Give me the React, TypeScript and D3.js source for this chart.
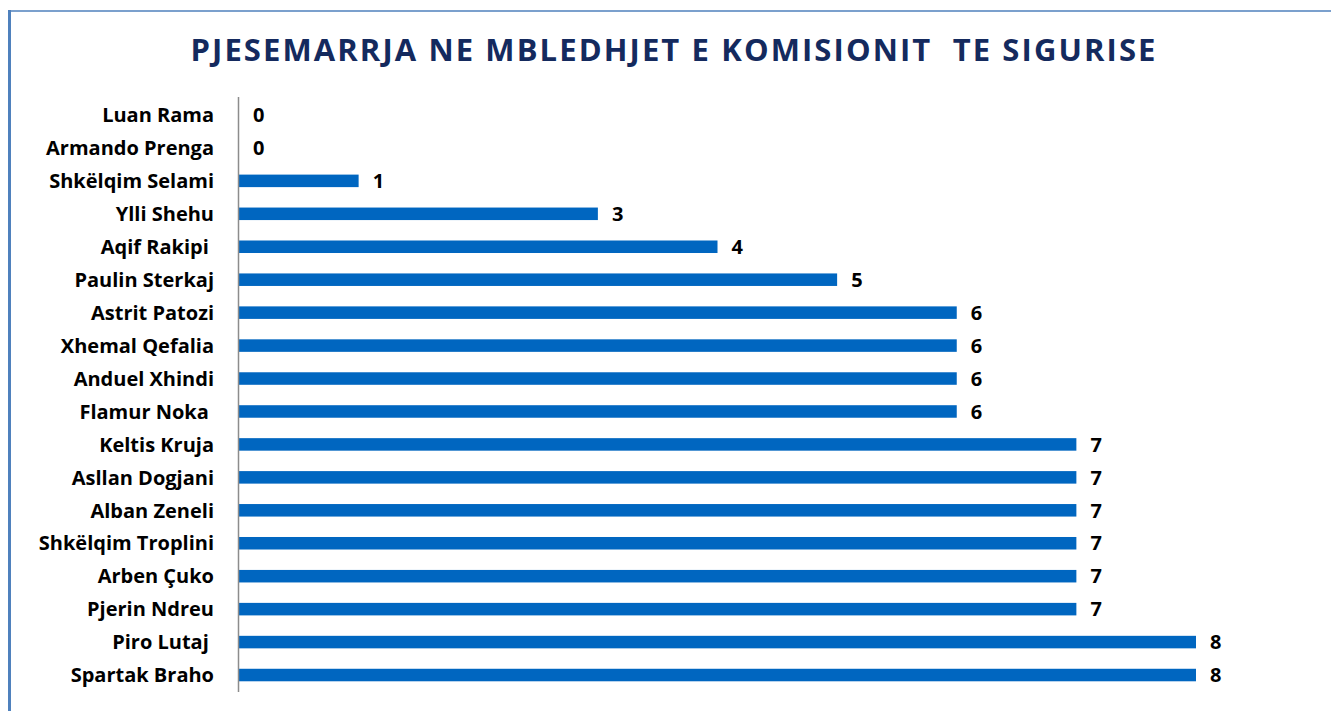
import React, { useEffect, useRef } from "react";
import * as d3 from "d3";

const names = [
  "Luan Rama",
  "Armando Prenga",
  "Shkëlqim Selami",
  "Ylli Shehu",
  "Aqif Rakipi ",
  "Paulin Sterkaj",
  "Astrit Patozi",
  "Xhemal Qefalia",
  "Anduel Xhindi",
  "Flamur Noka ",
  "Keltis Kruja",
  "Asllan Dogjani",
  "Alban Zeneli",
  "Shkëlqim Troplini",
  "Arben Çuko",
  "Pjerin Ndreu",
  "Piro Lutaj ",
  "Spartak Braho",
];
const values = [0, 0, 1, 3, 4, 5, 6, 6, 6, 6, 7, 7, 7, 7, 7, 7, 8, 8];
const title = "PJESEMARRJA NE MBLEDHJET E KOMISIONIT  TE SIGURISE";

const W = 1331;
const H = 711;

export default function App() {
  const ref = useRef<SVGSVGElement>(null);
  useEffect(() => {
    const svg = d3.select(ref.current);
    svg.selectAll("*").remove();
    const font = "'Open Sans', Lato, sans-serif";

    // frame
    svg.append("line").attr("x1", 9.5).attr("x2", 9.5).attr("y1", 10).attr("y2", H)
      .attr("stroke", "#4f81bd").attr("stroke-width", 3);
    svg.append("line").attr("x1", 8).attr("x2", W).attr("y1", 11).attr("y2", 11)
      .attr("stroke", "#4f81bd").attr("stroke-width", 1.5);

    svg.append("text").attr("x", 674).attr("y", 61).attr("text-anchor", "middle")
      .attr("font-family", font).attr("font-weight", 700).attr("font-size", 31)
      .attr("letter-spacing", 2.1)
      .attr("fill", "#142a5e").style("white-space", "pre").text(title);

    const x = d3.scaleLinear().domain([0, 8]).range([239, 1196]);
    const y = d3.scaleBand<string>().domain(names.map((n, i) => String(i))).range([98.5, 691.5]).paddingInner(0.62).paddingOuter(0.31);

    const g = svg.append("g");
    g.selectAll("rect.bar").data(values).join("rect").attr("class", "bar")
      .attr("x", x(0))
      .attr("y", (_, i) => y(String(i))!)
      .attr("width", (d) => x(d) - x(0))
      .attr("height", y.bandwidth())
      .attr("fill", "#0066c0");

    g.selectAll("text.val").data(values).join("text").attr("class", "val")
      .attr("x", (d) => x(d) + 14)
      .attr("y", (_, i) => y(String(i))! + y.bandwidth() / 2)
      .attr("dy", "0.36em")
      .attr("font-family", font).attr("font-weight", 700).attr("font-size", 20)
      .attr("fill", "#000").text((d) => String(d));

    g.selectAll("text.name").data(names).join("text").attr("class", "name")
      .attr("x", 214)
      .attr("y", (_, i) => y(String(i))! + y.bandwidth() / 2)
      .attr("dy", "0.36em")
      .attr("text-anchor", "end")
      .style("white-space", "pre")
      .attr("font-family", font).attr("font-weight", 700).attr("font-size", 20)
      .attr("fill", "#000").text((d) => d);

    svg.append("line").attr("x1", 238.5).attr("x2", 238.5).attr("y1", 97).attr("y2", 692)
      .attr("stroke", "#8c8c8c").attr("stroke-width", 1.5);
  }, []);
  return (
    <svg ref={ref} width={W} height={H} style={{ position: "absolute", left: 0, top: 0, background: "#fff" }} />
  );
}
